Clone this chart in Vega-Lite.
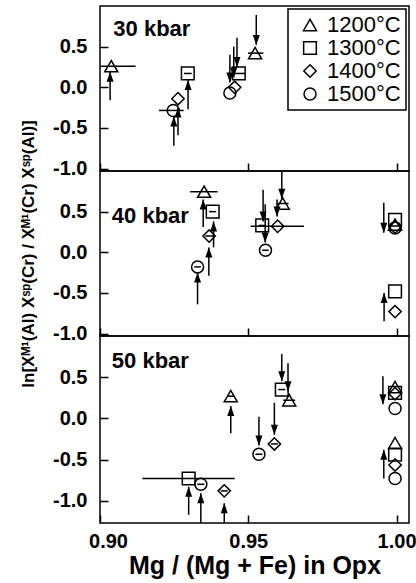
{
"$schema": "https://vega.github.io/schema/vega-lite/v6.json",
"background": "white",
"padding": {"left": 18, "right": 6, "top": 5, "bottom": 0},
"bounds": "flush",
"spacing": 0,
"config": {
  "font": "Liberation Sans",
  "view": {"stroke": "black", "strokeWidth": 1.5},
  "axis": {"labelFont": "Liberation Sans", "labelFontSize": 20, "labelFontWeight": "bold", "labelColor": "black", "tickColor": "black", "tickWidth": 1.5, "tickSize": -8, "domain": false, "grid": false, "titleFont": "Liberation Sans, DejaVu Sans", "titleFontWeight": "bold", "titleColor": "black"},
  "axisX": {"labelPadding": 16, "labelFlush": false},
  "axisY": {"labelPadding": 21, "labelFlush": false},
  "legend": {"orient": "top-right", "offset": 3, "padding": 5, "strokeColor": "black", "strokeWidth": 1.5, "fillColor": "white", "labelFont": "Liberation Sans", "labelFontSize": 22, "labelColor": "black", "symbolStrokeColor": "black", "symbolStrokeWidth": 1.5, "rowPadding": 1, "labelOffset": 6, "symbolOffset": 6}
},
"resolve": {"scale": {"shape": "independent", "size": "independent"}, "legend": {"shape": "independent", "size": "independent"}},
"datasets": {
  "pts": [
    {"p":"30 kbar","T":"1200°C","x":0.9038,"y":0.26,"lo":0.9,"hi":0.912},
    {"p":"30 kbar","T":"1200°C","x":0.9523,"y":0.42,"lo":0.9499,"hi":0.9551},
    {"p":"30 kbar","T":"1300°C","x":0.9296,"y":0.17,"lo":0.9283,"hi":0.9309},
    {"p":"30 kbar","T":"1300°C","x":0.9468,"y":0.17,"lo":0.9447,"hi":0.949},
    {"p":"30 kbar","T":"1400°C","x":0.9263,"y":-0.14},
    {"p":"30 kbar","T":"1400°C","x":0.9454,"y":0.0},
    {"p":"30 kbar","T":"1500°C","x":0.9247,"y":-0.285,"lo":0.9199,"hi":0.9282},
    {"p":"30 kbar","T":"1500°C","x":0.9438,"y":-0.07},
    {"p":"40 kbar","T":"1200°C","x":0.9351,"y":0.745,"lo":0.9304,"hi":0.9397},
    {"p":"40 kbar","T":"1200°C","x":0.9616,"y":0.6,"lo":0.9596,"hi":0.9636},
    {"p":"40 kbar","T":"1200°C","x":0.9995,"y":0.34},
    {"p":"40 kbar","T":"1300°C","x":0.938,"y":0.5,"lo":0.9368,"hi":0.9392},
    {"p":"40 kbar","T":"1300°C","x":0.9547,"y":0.33,"lo":0.9535,"hi":0.9559},
    {"p":"40 kbar","T":"1300°C","x":0.9995,"y":0.4},
    {"p":"40 kbar","T":"1300°C","x":0.9995,"y":-0.48},
    {"p":"40 kbar","T":"1400°C","x":0.9368,"y":0.2,"lo":0.9355,"hi":0.9381},
    {"p":"40 kbar","T":"1400°C","x":0.9599,"y":0.32,"lo":0.9508,"hi":0.9688},
    {"p":"40 kbar","T":"1400°C","x":0.9995,"y":0.31},
    {"p":"40 kbar","T":"1400°C","x":0.9995,"y":-0.73},
    {"p":"40 kbar","T":"1500°C","x":0.9329,"y":-0.18,"lo":0.9318,"hi":0.934},
    {"p":"40 kbar","T":"1500°C","x":0.9558,"y":0.025,"lo":0.9547,"hi":0.9569},
    {"p":"40 kbar","T":"1500°C","x":0.9995,"y":0.3},
    {"p":"50 kbar","T":"1200°C","x":0.9441,"y":0.27,"lo":0.9429,"hi":0.9453},
    {"p":"50 kbar","T":"1200°C","x":0.9638,"y":0.22,"lo":0.9618,"hi":0.9658},
    {"p":"50 kbar","T":"1200°C","x":0.9995,"y":0.38},
    {"p":"50 kbar","T":"1200°C","x":0.9995,"y":-0.3},
    {"p":"50 kbar","T":"1300°C","x":0.9299,"y":-0.73,"lo":0.9143,"hi":0.9454},
    {"p":"50 kbar","T":"1300°C","x":0.9613,"y":0.35,"lo":0.9601,"hi":0.9625},
    {"p":"50 kbar","T":"1300°C","x":0.9995,"y":0.31},
    {"p":"50 kbar","T":"1300°C","x":0.9995,"y":-0.44},
    {"p":"50 kbar","T":"1400°C","x":0.9419,"y":-0.88,"lo":0.9407,"hi":0.9431},
    {"p":"50 kbar","T":"1400°C","x":0.9588,"y":-0.31,"lo":0.9576,"hi":0.96},
    {"p":"50 kbar","T":"1400°C","x":0.9995,"y":0.3},
    {"p":"50 kbar","T":"1400°C","x":0.9995,"y":-0.565},
    {"p":"50 kbar","T":"1500°C","x":0.934,"y":-0.8,"lo":0.9328,"hi":0.9352},
    {"p":"50 kbar","T":"1500°C","x":0.9536,"y":-0.435,"lo":0.9524,"hi":0.9548},
    {"p":"50 kbar","T":"1500°C","x":0.9995,"y":0.12},
    {"p":"50 kbar","T":"1500°C","x":0.9995,"y":-0.73}
  ],
  "arr": [
    {"p":"30 kbar","x":0.9034,"y":-0.16,"y2":0.19,"d":"up"},
    {"p":"30 kbar","x":0.9297,"y":-0.27,"y2":0.09,"d":"up"},
    {"p":"30 kbar","x":0.9249,"y":-0.72,"y2":-0.36,"d":"up"},
    {"p":"30 kbar","x":0.9263,"y":-0.59,"y2":-0.25,"d":"up"},
    {"p":"30 kbar","x":0.9438,"y":0.4,"y2":0.06,"d":"down"},
    {"p":"30 kbar","x":0.9451,"y":0.5,"y2":0.12,"d":"down"},
    {"p":"30 kbar","x":0.9462,"y":0.61,"y2":0.25,"d":"down"},
    {"p":"30 kbar","x":0.9527,"y":0.89,"y2":0.52,"d":"down"},
    {"p":"40 kbar","x":0.9348,"y":0.31,"y2":0.65,"d":"up"},
    {"p":"40 kbar","x":0.9383,"y":0.06,"y2":0.38,"d":"up"},
    {"p":"40 kbar","x":0.9367,"y":-0.29,"y2":0.06,"d":"up"},
    {"p":"40 kbar","x":0.9329,"y":-0.64,"y2":-0.25,"d":"up"},
    {"p":"40 kbar","x":0.955,"y":0.77,"y2":0.38,"d":"down"},
    {"p":"40 kbar","x":0.9557,"y":0.59,"y2":0.12,"d":"down"},
    {"p":"40 kbar","x":0.9597,"y":0.65,"y2":0.44,"d":"down"},
    {"p":"40 kbar","x":0.9613,"y":1.0,"y2":0.66,"d":"down"},
    {"p":"40 kbar","x":0.9957,"y":0.61,"y2":0.24,"d":"down"},
    {"p":"40 kbar","x":0.9958,"y":-0.85,"y2":-0.5,"d":"up"},
    {"p":"50 kbar","x":0.9299,"y":-1.17,"y2":-0.83,"d":"up"},
    {"p":"50 kbar","x":0.934,"y":-1.27,"y2":-0.91,"d":"up"},
    {"p":"50 kbar","x":0.9419,"y":-1.27,"y2":-1.03,"d":"up"},
    {"p":"50 kbar","x":0.9441,"y":-0.18,"y2":0.15,"d":"up"},
    {"p":"50 kbar","x":0.9536,"y":0.02,"y2":-0.33,"d":"down"},
    {"p":"50 kbar","x":0.9588,"y":0.19,"y2":-0.2,"d":"down"},
    {"p":"50 kbar","x":0.9613,"y":0.78,"y2":0.45,"d":"down"},
    {"p":"50 kbar","x":0.9634,"y":0.67,"y2":0.33,"d":"down"},
    {"p":"50 kbar","x":0.9954,"y":0.51,"y2":0.17,"d":"down"},
    {"p":"50 kbar","x":0.9957,"y":-0.73,"y2":-0.38,"d":"up"}
  ]
},
"vconcat": [
  {
    "width": 309, "height": 165,
    "layer": [
      {"data": {"name": "pts"}, "transform": [{"filter": "datum.p == '30 kbar' && isValid(datum.lo)"}],
       "mark": {"type": "rule", "color": "black", "strokeWidth": 1.5},
       "encoding": {"x": {"field": "lo", "type": "quantitative", "scale": {"domain": [0.9, 1.0042], "nice": false, "zero": false}, "axis": {"values": [0.9, 0.95, 1.0], "labels": false, "title": null}}, "x2": {"field": "hi"},
                    "y": {"field": "y", "type": "quantitative", "scale": {"domain": [-1.03, 1.0], "nice": false, "zero": false}, "axis": {"values": [-1, -0.5, 0, 0.5], "labelExpr": "replace(format(datum.value, '.1f'), '−', '-')", "title": null}}}},
      {"data": {"name": "arr"}, "transform": [{"filter": "datum.p == '30 kbar'"}],
       "mark": {"type": "rule", "color": "black", "strokeWidth": 1.5},
       "encoding": {"x": {"field": "x", "type": "quantitative", "scale": {"domain": [0.9, 1.0042], "nice": false, "zero": false}, "axis": {"values": [0.9, 0.95, 1.0], "labels": false, "title": null}},
                    "y": {"field": "y", "type": "quantitative", "scale": {"domain": [-1.03, 1.0], "nice": false, "zero": false}, "axis": {"values": [-1, -0.5, 0, 0.5], "labelExpr": "replace(format(datum.value, '.1f'), '−', '-')", "title": null}}, "y2": {"field": "y2"}}},
      {"data": {"name": "arr"}, "transform": [{"filter": "datum.p == '30 kbar' && datum.d == 'up'"}],
       "mark": {"type": "point", "shape": "M0,0L-0.7,2L0.7,2Z", "filled": true, "color": "black", "size": 100, "opacity": 1},
       "encoding": {"x": {"field": "x", "type": "quantitative", "scale": {"domain": [0.9, 1.0042], "nice": false, "zero": false}, "axis": {"values": [0.9, 0.95, 1.0], "labels": false, "title": null}},
                    "y": {"field": "y2", "type": "quantitative", "scale": {"domain": [-1.03, 1.0], "nice": false, "zero": false}, "axis": {"values": [-1, -0.5, 0, 0.5], "labelExpr": "replace(format(datum.value, '.1f'), '−', '-')", "title": null}}}},
      {"data": {"name": "arr"}, "transform": [{"filter": "datum.p == '30 kbar' && datum.d == 'down'"}],
       "mark": {"type": "point", "shape": "M0,0L-0.7,-2L0.7,-2Z", "filled": true, "color": "black", "size": 100, "opacity": 1},
       "encoding": {"x": {"field": "x", "type": "quantitative", "scale": {"domain": [0.9, 1.0042], "nice": false, "zero": false}, "axis": {"values": [0.9, 0.95, 1.0], "labels": false, "title": null}},
                    "y": {"field": "y2", "type": "quantitative", "scale": {"domain": [-1.03, 1.0], "nice": false, "zero": false}, "axis": {"values": [-1, -0.5, 0, 0.5], "labelExpr": "replace(format(datum.value, '.1f'), '−', '-')", "title": null}}}},
      {"data": {"name": "pts"}, "transform": [{"filter": "datum.p == '30 kbar'"}],
       "mark": {"type": "point", "filled": false, "color": "black", "strokeWidth": 1.5, "opacity": 1},
       "encoding": {"x": {"field": "x", "type": "quantitative", "scale": {"domain": [0.9, 1.0042], "nice": false, "zero": false}, "axis": {"values": [0.9, 0.95, 1.0], "labels": false, "title": null}},
                    "y": {"field": "y", "type": "quantitative", "scale": {"domain": [-1.03, 1.0], "nice": false, "zero": false}, "axis": {"values": [-1, -0.5, 0, 0.5], "labelExpr": "replace(format(datum.value, '.1f'), '−', '-')", "title": null}},
                    "shape": {"field": "T", "type": "ordinal", "scale": {"domain": ["1200°C", "1300°C", "1400°C", "1500°C"], "range": ["triangle-up", "square", "diamond", "circle"]}, "legend": {"title": null}},
                    "size": {"field": "T", "type": "ordinal", "scale": {"domain": ["1200°C", "1300°C", "1400°C", "1500°C"], "range": [170, 144, 180, 110]}, "legend": {"title": null}}}},
      {"data": {"values": [{"p": "30 kbar"}]},
       "mark": {"type": "text", "align": "left", "baseline": "middle", "fontSize": 22, "fontWeight": "bold", "font": "Liberation Sans", "color": "black"},
       "encoding": {"x": {"datum": 0.9045, "type": "quantitative", "scale": {"domain": [0.9, 1.0042], "nice": false, "zero": false}, "axis": {"values": [0.9, 0.95, 1.0], "labels": false, "title": null}},
                    "y": {"datum": 0.72, "type": "quantitative", "scale": {"domain": [-1.03, 1.0], "nice": false, "zero": false}, "axis": {"values": [-1, -0.5, 0, 0.5], "labelExpr": "replace(format(datum.value, '.1f'), '−', '-')", "title": null}},
                    "text": {"field": "p"}}}
    ]
  },
  {
    "width": 309, "height": 165,
    "layer": [
      {"data": {"name": "pts"}, "transform": [{"filter": "datum.p == '40 kbar' && isValid(datum.lo)"}],
       "mark": {"type": "rule", "color": "black", "strokeWidth": 1.5},
       "encoding": {"x": {"field": "lo", "type": "quantitative", "scale": {"domain": [0.9, 1.0042], "nice": false, "zero": false}, "axis": {"values": [0.9, 0.95, 1.0], "labels": false, "title": null}}, "x2": {"field": "hi"},
                    "y": {"field": "y", "type": "quantitative", "scale": {"domain": [-1.03, 1.0], "nice": false, "zero": false}, "axis": {"values": [-1, -0.5, 0, 0.5], "labelExpr": "replace(format(datum.value, '.1f'), '−', '-')", "title": "ln[Xᴹ¹(Al) Xˢᵖ(Cr) / Xᴹ¹(Cr) Xˢᵖ(Al)]", "titleFontSize": 17, "titlePadding": 15}}}},
      {"data": {"name": "arr"}, "transform": [{"filter": "datum.p == '40 kbar'"}],
       "mark": {"type": "rule", "color": "black", "strokeWidth": 1.5},
       "encoding": {"x": {"field": "x", "type": "quantitative", "scale": {"domain": [0.9, 1.0042], "nice": false, "zero": false}, "axis": {"values": [0.9, 0.95, 1.0], "labels": false, "title": null}},
                    "y": {"field": "y", "type": "quantitative", "scale": {"domain": [-1.03, 1.0], "nice": false, "zero": false}, "axis": {"values": [-1, -0.5, 0, 0.5], "labelExpr": "replace(format(datum.value, '.1f'), '−', '-')", "title": "ln[Xᴹ¹(Al) Xˢᵖ(Cr) / Xᴹ¹(Cr) Xˢᵖ(Al)]", "titleFontSize": 17, "titlePadding": 15}}, "y2": {"field": "y2"}}},
      {"data": {"name": "arr"}, "transform": [{"filter": "datum.p == '40 kbar' && datum.d == 'up'"}],
       "mark": {"type": "point", "shape": "M0,0L-0.7,2L0.7,2Z", "filled": true, "color": "black", "size": 100, "opacity": 1},
       "encoding": {"x": {"field": "x", "type": "quantitative", "scale": {"domain": [0.9, 1.0042], "nice": false, "zero": false}, "axis": {"values": [0.9, 0.95, 1.0], "labels": false, "title": null}},
                    "y": {"field": "y2", "type": "quantitative", "scale": {"domain": [-1.03, 1.0], "nice": false, "zero": false}, "axis": {"values": [-1, -0.5, 0, 0.5], "labelExpr": "replace(format(datum.value, '.1f'), '−', '-')", "title": "ln[Xᴹ¹(Al) Xˢᵖ(Cr) / Xᴹ¹(Cr) Xˢᵖ(Al)]", "titleFontSize": 17, "titlePadding": 15}}}},
      {"data": {"name": "arr"}, "transform": [{"filter": "datum.p == '40 kbar' && datum.d == 'down'"}],
       "mark": {"type": "point", "shape": "M0,0L-0.7,-2L0.7,-2Z", "filled": true, "color": "black", "size": 100, "opacity": 1},
       "encoding": {"x": {"field": "x", "type": "quantitative", "scale": {"domain": [0.9, 1.0042], "nice": false, "zero": false}, "axis": {"values": [0.9, 0.95, 1.0], "labels": false, "title": null}},
                    "y": {"field": "y2", "type": "quantitative", "scale": {"domain": [-1.03, 1.0], "nice": false, "zero": false}, "axis": {"values": [-1, -0.5, 0, 0.5], "labelExpr": "replace(format(datum.value, '.1f'), '−', '-')", "title": "ln[Xᴹ¹(Al) Xˢᵖ(Cr) / Xᴹ¹(Cr) Xˢᵖ(Al)]", "titleFontSize": 17, "titlePadding": 15}}}},
      {"data": {"name": "pts"}, "transform": [{"filter": "datum.p == '40 kbar'"}],
       "mark": {"type": "point", "filled": false, "color": "black", "strokeWidth": 1.5, "opacity": 1},
       "encoding": {"x": {"field": "x", "type": "quantitative", "scale": {"domain": [0.9, 1.0042], "nice": false, "zero": false}, "axis": {"values": [0.9, 0.95, 1.0], "labels": false, "title": null}},
                    "y": {"field": "y", "type": "quantitative", "scale": {"domain": [-1.03, 1.0], "nice": false, "zero": false}, "axis": {"values": [-1, -0.5, 0, 0.5], "labelExpr": "replace(format(datum.value, '.1f'), '−', '-')", "title": "ln[Xᴹ¹(Al) Xˢᵖ(Cr) / Xᴹ¹(Cr) Xˢᵖ(Al)]", "titleFontSize": 17, "titlePadding": 15}},
                    "shape": {"field": "T", "type": "ordinal", "scale": {"domain": ["1200°C", "1300°C", "1400°C", "1500°C"], "range": ["triangle-up", "square", "diamond", "circle"]}, "legend": null},
                    "size": {"field": "T", "type": "ordinal", "scale": {"domain": ["1200°C", "1300°C", "1400°C", "1500°C"], "range": [170, 144, 180, 110]}, "legend": null}}},
      {"data": {"values": [{"p": "40 kbar"}]},
       "mark": {"type": "text", "align": "left", "baseline": "middle", "fontSize": 22, "fontWeight": "bold", "font": "Liberation Sans", "color": "black"},
       "encoding": {"x": {"datum": 0.904, "type": "quantitative", "scale": {"domain": [0.9, 1.0042], "nice": false, "zero": false}, "axis": {"values": [0.9, 0.95, 1.0], "labels": false, "title": null}},
                    "y": {"datum": 0.45, "type": "quantitative", "scale": {"domain": [-1.03, 1.0], "nice": false, "zero": false}, "axis": {"values": [-1, -0.5, 0, 0.5], "labelExpr": "replace(format(datum.value, '.1f'), '−', '-')", "title": "ln[Xᴹ¹(Al) Xˢᵖ(Cr) / Xᴹ¹(Cr) Xˢᵖ(Al)]", "titleFontSize": 17, "titlePadding": 15}},
                    "text": {"field": "p"}}}
    ]
  },
  {
    "width": 309, "height": 187,
    "layer": [
      {"data": {"name": "pts"}, "transform": [{"filter": "datum.p == '50 kbar' && isValid(datum.lo)"}],
       "mark": {"type": "rule", "color": "black", "strokeWidth": 1.5},
       "encoding": {"x": {"field": "lo", "type": "quantitative", "scale": {"domain": [0.9, 1.0042], "nice": false, "zero": false}, "axis": {"values": [0.9, 0.95, 1.0], "format": ".2f", "title": "Mg / (Mg + Fe) in Opx", "titleFontSize": 25, "titlePadding": 2, "labelOffset": {"condition": {"test": "datum.value < 0.91", "value": 8}, "value": 0}}}, "x2": {"field": "hi"},
                    "y": {"field": "y", "type": "quantitative", "scale": {"domain": [-1.27, 1.0], "nice": false, "zero": false}, "axis": {"values": [-1, -0.5, 0, 0.5], "labelExpr": "replace(format(datum.value, '.1f'), '−', '-')", "title": null}}}},
      {"data": {"name": "arr"}, "transform": [{"filter": "datum.p == '50 kbar'"}],
       "mark": {"type": "rule", "color": "black", "strokeWidth": 1.5},
       "encoding": {"x": {"field": "x", "type": "quantitative", "scale": {"domain": [0.9, 1.0042], "nice": false, "zero": false}, "axis": {"values": [0.9, 0.95, 1.0], "format": ".2f", "title": "Mg / (Mg + Fe) in Opx", "titleFontSize": 25, "titlePadding": 2, "labelOffset": {"condition": {"test": "datum.value < 0.91", "value": 8}, "value": 0}}},
                    "y": {"field": "y", "type": "quantitative", "scale": {"domain": [-1.27, 1.0], "nice": false, "zero": false}, "axis": {"values": [-1, -0.5, 0, 0.5], "labelExpr": "replace(format(datum.value, '.1f'), '−', '-')", "title": null}}, "y2": {"field": "y2"}}},
      {"data": {"name": "arr"}, "transform": [{"filter": "datum.p == '50 kbar' && datum.d == 'up'"}],
       "mark": {"type": "point", "shape": "M0,0L-0.7,2L0.7,2Z", "filled": true, "color": "black", "size": 100, "opacity": 1},
       "encoding": {"x": {"field": "x", "type": "quantitative", "scale": {"domain": [0.9, 1.0042], "nice": false, "zero": false}, "axis": {"values": [0.9, 0.95, 1.0], "format": ".2f", "title": "Mg / (Mg + Fe) in Opx", "titleFontSize": 25, "titlePadding": 2, "labelOffset": {"condition": {"test": "datum.value < 0.91", "value": 8}, "value": 0}}},
                    "y": {"field": "y2", "type": "quantitative", "scale": {"domain": [-1.27, 1.0], "nice": false, "zero": false}, "axis": {"values": [-1, -0.5, 0, 0.5], "labelExpr": "replace(format(datum.value, '.1f'), '−', '-')", "title": null}}}},
      {"data": {"name": "arr"}, "transform": [{"filter": "datum.p == '50 kbar' && datum.d == 'down'"}],
       "mark": {"type": "point", "shape": "M0,0L-0.7,-2L0.7,-2Z", "filled": true, "color": "black", "size": 100, "opacity": 1},
       "encoding": {"x": {"field": "x", "type": "quantitative", "scale": {"domain": [0.9, 1.0042], "nice": false, "zero": false}, "axis": {"values": [0.9, 0.95, 1.0], "format": ".2f", "title": "Mg / (Mg + Fe) in Opx", "titleFontSize": 25, "titlePadding": 2, "labelOffset": {"condition": {"test": "datum.value < 0.91", "value": 8}, "value": 0}}},
                    "y": {"field": "y2", "type": "quantitative", "scale": {"domain": [-1.27, 1.0], "nice": false, "zero": false}, "axis": {"values": [-1, -0.5, 0, 0.5], "labelExpr": "replace(format(datum.value, '.1f'), '−', '-')", "title": null}}}},
      {"data": {"name": "pts"}, "transform": [{"filter": "datum.p == '50 kbar'"}],
       "mark": {"type": "point", "filled": false, "color": "black", "strokeWidth": 1.5, "opacity": 1},
       "encoding": {"x": {"field": "x", "type": "quantitative", "scale": {"domain": [0.9, 1.0042], "nice": false, "zero": false}, "axis": {"values": [0.9, 0.95, 1.0], "format": ".2f", "title": "Mg / (Mg + Fe) in Opx", "titleFontSize": 25, "titlePadding": 2, "labelOffset": {"condition": {"test": "datum.value < 0.91", "value": 8}, "value": 0}}},
                    "y": {"field": "y", "type": "quantitative", "scale": {"domain": [-1.27, 1.0], "nice": false, "zero": false}, "axis": {"values": [-1, -0.5, 0, 0.5], "labelExpr": "replace(format(datum.value, '.1f'), '−', '-')", "title": null}},
                    "shape": {"field": "T", "type": "ordinal", "scale": {"domain": ["1200°C", "1300°C", "1400°C", "1500°C"], "range": ["triangle-up", "square", "diamond", "circle"]}, "legend": null},
                    "size": {"field": "T", "type": "ordinal", "scale": {"domain": ["1200°C", "1300°C", "1400°C", "1500°C"], "range": [170, 144, 180, 110]}, "legend": null}}},
      {"data": {"values": [{"p": "50 kbar"}]},
       "mark": {"type": "text", "align": "left", "baseline": "middle", "fontSize": 22, "fontWeight": "bold", "font": "Liberation Sans", "color": "black"},
       "encoding": {"x": {"datum": 0.904, "type": "quantitative", "scale": {"domain": [0.9, 1.0042], "nice": false, "zero": false}, "axis": {"values": [0.9, 0.95, 1.0], "format": ".2f", "title": "Mg / (Mg + Fe) in Opx", "titleFontSize": 25, "titlePadding": 2, "labelOffset": {"condition": {"test": "datum.value < 0.91", "value": 8}, "value": 0}}},
                    "y": {"datum": 0.7, "type": "quantitative", "scale": {"domain": [-1.27, 1.0], "nice": false, "zero": false}, "axis": {"values": [-1, -0.5, 0, 0.5], "labelExpr": "replace(format(datum.value, '.1f'), '−', '-')", "title": null}},
                    "text": {"field": "p"}}}
    ]
  }
]
}
